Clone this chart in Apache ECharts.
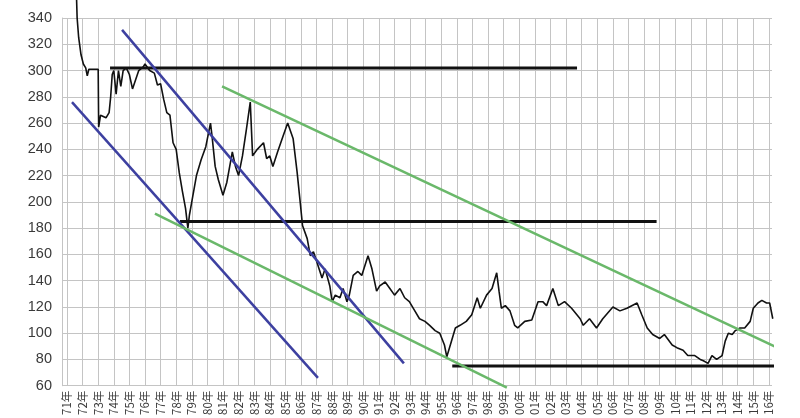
<!DOCTYPE html>
<html>
<head>
<meta charset="utf-8">
<script src="https://cdn.jsdelivr.net/npm/echarts@6/dist/echarts.min.js"></script>
<style>
  html, body { margin: 0; padding: 0; background: #fff; }
  #chart { width: 800px; height: 418px; }
</style>
</head>
<body>
<div id="chart"></div>
<script>
// tick years on the x axis (1971 .. 2016)
var tickYears = [1971, 1972, 1973, 1974, 1975, 1976, 1977, 1978, 1979, 1980,
  1981, 1982, 1983, 1984, 1985, 1986, 1987, 1988, 1989, 1990,
  1991, 1992, 1993, 1994, 1995, 1996, 1997, 1998, 1999, 2000,
  2001, 2002, 2003, 2004, 2005, 2006, 2007, 2008, 2009, 2010,
  2011, 2012, 2013, 2014, 2015, 2016];

// price line (time in years, value)
var priceT = [1971.6, 1971.65, 1971.75, 1971.9, 1972.05, 1972.2, 1972.3, 1972.4, 1973.0, 1973.03,
  1973.15, 1973.5, 1973.7, 1973.8, 1973.9, 1974.0, 1974.15, 1974.3, 1974.45, 1974.6,
  1974.8, 1975.0, 1975.2, 1975.4, 1975.6, 1975.9, 1976.0, 1976.3, 1976.6, 1976.8,
  1977.0, 1977.2, 1977.4, 1977.6, 1977.8, 1978.0, 1978.2, 1978.4, 1978.6, 1978.75,
  1978.85, 1979.0, 1979.3, 1979.6, 1979.9, 1980.2, 1980.3, 1980.5, 1980.7, 1981.0,
  1981.25, 1981.6, 1981.8, 1982.0, 1982.25, 1982.5, 1982.75, 1982.9, 1983.2, 1983.6,
  1983.8, 1984.0, 1984.2, 1984.5, 1984.85, 1985.15, 1985.5, 1985.75, 1985.95, 1986.1,
  1986.4, 1986.6, 1986.8, 1987.0, 1987.35, 1987.55, 1987.85, 1988.0, 1988.2, 1988.5,
  1988.7, 1988.95, 1989.1, 1989.35, 1989.65, 1989.9, 1990.3, 1990.55, 1990.85, 1991.05,
  1991.4, 1991.7, 1992.0, 1992.35, 1992.65, 1992.95, 1993.3, 1993.6, 1993.95, 1994.25,
  1994.6, 1994.9, 1995.2, 1995.35, 1995.5, 1995.7, 1995.9, 1996.2, 1996.6, 1996.95,
  1997.3, 1997.5, 1997.9, 1998.25, 1998.55, 1998.7, 1998.85, 1999.1, 1999.4, 1999.7,
  1999.9, 2000.35, 2000.8, 2001.2, 2001.5, 2001.75, 2002.15, 2002.5, 2002.9, 2003.35,
  2003.9, 2004.1, 2004.5, 2004.95, 2005.35, 2006.0, 2006.45, 2006.9, 2007.55, 2007.85,
  2008.2, 2008.55, 2009.0, 2009.3, 2009.8, 2010.1, 2010.5, 2010.8, 2011.25, 2011.6,
  2011.8, 2012.1, 2012.35, 2012.65, 2013.0, 2013.2, 2013.4, 2013.65, 2013.85, 2014.15,
  2014.45, 2014.8, 2015.0, 2015.3, 2015.55, 2015.85, 2016.05, 2016.25];
var priceV = [360, 340, 325, 312, 305, 302, 296, 301, 301, 257,
  266, 264, 268, 280, 297, 300, 282, 300, 288, 300,
  302, 297, 286, 293, 300, 303, 305, 300, 298, 289,
  290, 278, 268, 266, 245, 240, 222, 208, 195, 180,
  190, 200, 220, 232, 242, 260, 250, 227, 217, 205,
  215, 238, 227, 220, 235, 255, 276, 235, 240, 245,
  233, 235, 227, 238, 250, 260, 248, 223, 200, 182,
  172, 159, 162, 155, 142, 149, 136, 124, 129, 127,
  134, 124, 129, 144, 147, 144, 159, 149, 132, 136,
  139, 134, 129, 134, 127, 124, 117, 111, 109, 106,
  102, 100, 91, 82, 88, 96, 104, 106, 109, 114,
  127, 119, 129, 134, 146, 132, 119, 121, 117, 106,
  104, 109, 110, 124, 124, 121, 134, 121, 124, 119,
  111, 106, 111, 104, 111, 120, 117, 119, 123, 114,
  104, 99, 96, 99, 91, 89, 87, 83, 83, 80,
  79, 77, 83, 80, 83, 94, 100, 99, 102, 104,
  104, 109, 119, 123, 125, 123, 123, 111];

// trend lines: [x1, y1, x2, y2]
var blackLines = [
  [1973.76, 302, 2003.7, 302],
  [1978.24, 185, 2008.8, 185],
  [1995.7, 75, 2016.45, 75]
];
var blueLines = [
  [1971.32, 276, 1987.09, 66],
  [1974.53, 331, 1992.6, 77]
];
var greenLines = [
  [1980.94, 288, 2016.45, 89.5],
  [1976.64, 191, 1999.2, 58.5]
];

var chart = echarts.init(document.getElementById('chart'));

var series = [];
function addLines(list, color, width) {
  list.forEach(function (l) {
    series.push({
      type: 'line',
      data: [[l[0], l[1]], [l[2], l[3]]],
      symbol: 'none',
      clip: false,
      silent: true,
      lineStyle: { color: color, width: width }
    });
  });
}

series.push({
  type: 'line',
  data: priceT.map(function (t, i) { return [t, priceV[i]]; }),
  symbol: 'none',
  clip: false,
  lineStyle: { color: '#111', width: 1.6 },
  z: 3
});
addLines(blackLines, '#111', 3);
addLines(blueLines, '#3d40a0', 2.5);
addLines(greenLines, '#6ab86a', 2.5);

chart.setOption({
  animation: false,
  grid: { left: 62, right: 28, top: 18, bottom: 30 },
  xAxis: {
    type: 'value',
    min: 1970.68,
    max: 2016.2,
    axisLine: { show: false },
    axisTick: { show: false, customValues: tickYears },
    axisLabel: {
      customValues: tickYears,
      rotate: 90,
      margin: 5,
      fontSize: 11.5,
      color: '#3a3a3a',
      fontFamily: '"Noto Sans CJK SC", sans-serif',
      formatter: function (v) { return String(v % 100).padStart(2, '0') + '年'; }
    },
    splitLine: { show: true, lineStyle: { color: '#c4c4c4', width: 1 } }
  },
  yAxis: {
    type: 'value',
    min: 60,
    max: 340,
    interval: 20,
    axisLine: { show: true, lineStyle: { color: '#c4c4c4' } },
    axisTick: { show: false },
    axisLabel: {
      margin: 10,
      fontSize: 14.5,
      color: '#3a3a3a',
      fontFamily: '"Liberation Sans", Arial, sans-serif'
    },
    splitLine: { show: true, lineStyle: { color: '#c4c4c4', width: 1 } }
  },
  series: series
});
</script>
</body>
</html>
